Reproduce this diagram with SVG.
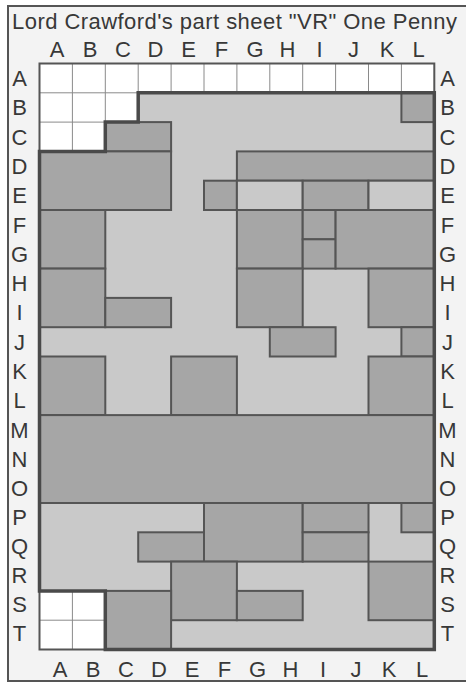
<svg xmlns="http://www.w3.org/2000/svg" width="466" height="685" viewBox="0 0 466 685">
<style>
.lbl{font-family:"Liberation Sans",Arial,sans-serif;font-size:22px;fill:#383838;text-anchor:middle}
.blk{fill:#a6a6a6;stroke:#555;stroke-width:2}
.lt{fill:#c9c9c9;stroke:#555;stroke-width:2}
.thin{stroke:#8a8a8a;stroke-width:1;fill:none}
</style>
<rect width="466" height="685" fill="#fff"/>
<rect x="8" y="6" width="460" height="675" fill="#f3f3f3"/>
<path d="M466,6 H8 V681 H466" fill="none" stroke="#555" stroke-width="2"/>
<text x="12" y="28.5" font-family="Liberation Sans,Arial,sans-serif" font-size="22" fill="#383838" textLength="445" lengthAdjust="spacing">Lord Crawford's part sheet "VR" One Penny</text>

<g id="grid-white">
<rect x="39.5" y="63.5" width="394.8" height="87.9" fill="#fff"/>
<rect x="39.5" y="590.9" width="65.8" height="58.6" fill="#fff"/>
<path class="thin" d="M72.4,63.5V151.4M105.3,63.5V122.1M138.2,63.5V92.8M171.1,63.5V92.8M204,63.5V92.8M236.9,63.5V92.8M269.8,63.5V92.8M302.7,63.5V92.8M335.6,63.5V92.8M368.5,63.5V92.8M401.4,63.5V92.8M39.5,92.8H138.2M39.5,122.1H105.3M72.4,590.9V649.5M39.5,620.2H105.3"/>
<path d="M39.5,151.4V63.5H434.3V92.8M39.5,590.9V649.5H105.3" fill="none" stroke="#555" stroke-width="2"/>
</g>

<g id="plate">
<polygon points="138.2,92.8 434.3,92.8 434.3,649.5 105.3,649.5 105.3,590.9 39.5,590.9 39.5,151.4 105.3,151.4 105.3,122.1 138.2,122.1" fill="#c9c9c9"/>
</g>

<g id="blocks">
<g id="b-LB"><rect class="blk" x="401.4" y="92.8" width="32.9" height="29.3"/></g>
<g id="b-CD-C"><rect class="blk" x="105.3" y="122.1" width="65.8" height="29.3"/></g>
<g id="b-AD-DE"><rect class="blk" x="39.5" y="151.4" width="131.6" height="58.6"/></g>
<g id="b-GL-D"><rect class="blk" x="236.9" y="151.4" width="197.4" height="29.3"/></g>
<g id="b-F-E"><rect class="blk" x="204" y="180.7" width="32.9" height="29.3"/></g>
<g id="l-GH-E"><rect class="lt" x="236.9" y="180.7" width="65.8" height="29.3"/></g>
<g id="b-IJ-E"><rect class="blk" x="302.7" y="180.7" width="65.8" height="29.3"/></g>
<g id="l-KL-E"><rect class="lt" x="368.5" y="180.7" width="65.8" height="29.3"/></g>
<g id="b-AB-FG"><rect class="blk" x="39.5" y="210" width="65.8" height="58.6"/></g>
<g id="b-AB-HI"><rect class="blk" x="39.5" y="268.6" width="65.8" height="58.6"/></g>
<g id="b-CD-I"><rect class="blk" x="105.3" y="297.9" width="65.8" height="29.3"/></g>
<g id="b-GH-FG"><rect class="blk" x="236.9" y="210" width="65.8" height="58.6"/></g>
<g id="b-I-F"><rect class="blk" x="302.7" y="210" width="32.9" height="29.3"/></g>
<g id="b-I-G"><rect class="blk" x="302.7" y="239.3" width="32.9" height="29.3"/></g>
<g id="b-JL-FG"><rect class="blk" x="335.6" y="210" width="98.7" height="58.6"/></g>
<g id="b-GH-HI"><rect class="blk" x="236.9" y="268.6" width="65.8" height="58.6"/></g>
<g id="b-KL-HI"><rect class="blk" x="368.5" y="268.6" width="65.8" height="58.6"/></g>
<g id="b-HI-J"><rect class="blk" x="269.8" y="327.2" width="65.8" height="29.3"/></g>
<g id="b-L-J"><rect class="blk" x="401.4" y="327.2" width="32.9" height="29.3"/></g>
<g id="b-AB-KL"><rect class="blk" x="39.5" y="356.5" width="65.8" height="58.6"/></g>
<g id="b-EF-KL"><rect class="blk" x="171.1" y="356.5" width="65.8" height="58.6"/></g>
<g id="b-KL-KL"><rect class="blk" x="368.5" y="356.5" width="65.8" height="58.6"/></g>
<g id="b-AL-MO"><rect class="blk" x="39.5" y="415.1" width="394.8" height="87.9"/></g>
<g id="b-DE-Q"><rect class="blk" x="138.2" y="532.3" width="65.8" height="29.3"/></g>
<g id="b-FH-PQ"><rect class="blk" x="204" y="503" width="98.7" height="58.6"/></g>
<g id="b-IJ-P"><rect class="blk" x="302.7" y="503" width="65.8" height="29.3"/></g>
<g id="b-IJ-Q"><rect class="blk" x="302.7" y="532.3" width="65.8" height="29.3"/></g>
<g id="b-L-P"><rect class="blk" x="401.4" y="503" width="32.9" height="29.3"/></g>
<g id="b-EF-RS"><rect class="blk" x="171.1" y="561.6" width="65.8" height="58.6"/></g>
<g id="b-GH-S"><rect class="blk" x="236.9" y="590.9" width="65.8" height="29.3"/></g>
<g id="b-KL-RS"><rect class="blk" x="368.5" y="561.6" width="65.8" height="58.6"/></g>
<g id="b-CD-ST"><rect class="blk" x="105.3" y="590.9" width="65.8" height="58.6"/></g>
</g>

<g id="plate-outline">
<polygon points="138.2,92.8 434.3,92.8 434.3,649.5 105.3,649.5 105.3,590.9 39.5,590.9 39.5,151.4 105.3,151.4 105.3,122.1 138.2,122.1" fill="none" stroke="#4a4a4a" stroke-width="3.5" stroke-linejoin="miter"/>
</g>

<g id="col-top" class="lbl">
<text x="57" y="56.5">A</text><text x="90" y="56.5">B</text><text x="123" y="56.5">C</text><text x="155.5" y="56.5">D</text><text x="188.5" y="56.5">E</text><text x="221.5" y="56.5">F</text><text x="255" y="56.5">G</text><text x="287.5" y="56.5">H</text><text x="319.5" y="56.5">I</text><text x="353.5" y="56.5">J</text><text x="387" y="56.5">K</text><text x="418.5" y="56.5">L</text>
</g>
<g id="col-bottom" class="lbl">
<text x="60" y="676.5">A</text><text x="93" y="676.5">B</text><text x="126" y="676.5">C</text><text x="159" y="676.5">D</text><text x="192" y="676.5">E</text><text x="224.5" y="676.5">F</text><text x="257.5" y="676.5">G</text><text x="290.5" y="676.5">H</text><text x="323" y="676.5">I</text><text x="356" y="676.5">J</text><text x="389" y="676.5">K</text><text x="422" y="676.5">L</text>
</g>
<g id="row-left" class="lbl">
<text x="19.5" y="86">A</text><text x="19.5" y="115.3">B</text><text x="19.5" y="144.6">C</text><text x="19.5" y="173.9">D</text><text x="19.5" y="203.2">E</text><text x="19.5" y="232.5">F</text><text x="19.5" y="261.8">G</text><text x="19.5" y="291.1">H</text><text x="19.5" y="320.4">I</text><text x="19.5" y="349.7">J</text><text x="19.5" y="379">K</text><text x="19.5" y="408.3">L</text><text x="19.5" y="437.6">M</text><text x="19.5" y="466.9">N</text><text x="19.5" y="496.2">O</text><text x="19.5" y="525">P</text><text x="19.5" y="554">Q</text><text x="19.5" y="583">R</text><text x="19.5" y="612">S</text><text x="19.5" y="640.5">T</text>
</g>
<g id="row-right" class="lbl">
<text x="447.5" y="86">A</text><text x="447.5" y="115.3">B</text><text x="447.5" y="144.6">C</text><text x="447.5" y="173.9">D</text><text x="447.5" y="203.2">E</text><text x="447.5" y="232.5">F</text><text x="447.5" y="261.8">G</text><text x="447.5" y="291.1">H</text><text x="447.5" y="320.4">I</text><text x="447.5" y="349.7">J</text><text x="447.5" y="379">K</text><text x="447.5" y="408.3">L</text><text x="447.5" y="437.6">M</text><text x="447.5" y="466.9">N</text><text x="447.5" y="496.2">O</text><text x="447.5" y="525">P</text><text x="447.5" y="554">Q</text><text x="447.5" y="583">R</text><text x="447.5" y="612">S</text><text x="447.5" y="640.5">T</text>
</g>
</svg>
